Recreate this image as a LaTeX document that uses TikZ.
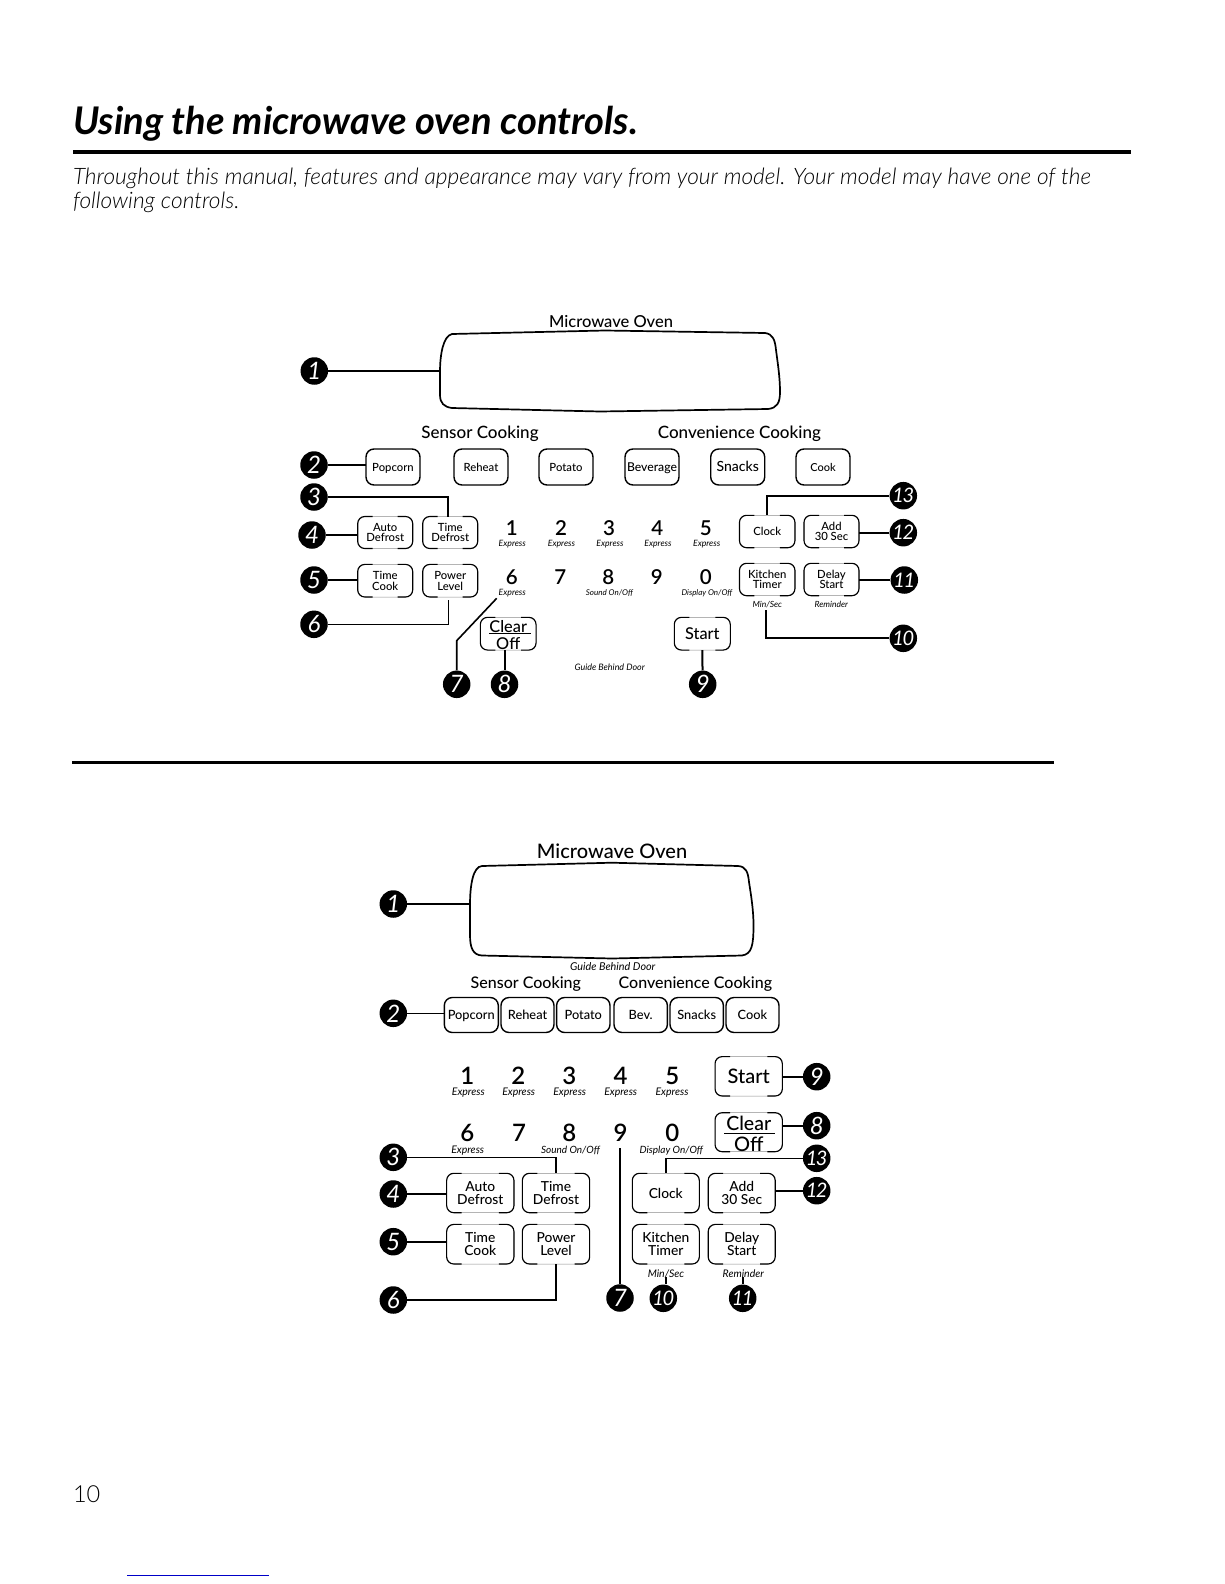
\documentclass[tikz,border=0pt]{standalone}
\usepackage{fontspec}
\setmainfont{Lato}
\newfontfamily\lightit{Lato Light Italic}
\newfontfamily\lightup{Lato Light}
\newfontfamily\medf{Lato Medium}
\newfontfamily\semif{Lato Semibold}
\newcommand{\fs}[1]{\fontsize{#1}{#1}\selectfont}
\tikzset{
  conn/.style={line width=2pt,black},
  thinconn/.style={line width=1.6pt,black},
  solidbtn/.style={draw=black,line width=1.4pt,rounded corners=8pt,inner sep=0pt,outer sep=0pt,align=center,text height=1em,text depth=0.2em},
  softbtn/.style={draw=black!45,line width=0.5pt,rounded corners=8pt,inner sep=0pt,outer sep=0pt,align=center},
  bracket/.style={black,line width=1.1pt,rounded corners=7pt},
  badge/.style={circle,fill=black,inner sep=0pt,minimum size=27.5pt,text=white,font=\fs{24}\itshape},
  lbl/.style={inner sep=0pt,outer sep=0pt,align=center},
  tiny/.style={lbl,font=\itshape},
  dispbox/.style={line width=1.7pt,black},
}
% name x y w h size text
\newcommand{\sbtn}[7]{\node[solidbtn,minimum width=#4pt,minimum height=#5pt,font=\fs{#6}\medf] (#1) at (#2,#3) {#7};}
\newcommand{\gbtn}[7]{\node[softbtn,minimum width=#4pt,minimum height=#5pt,font=\fs{#6}\medf] (#1) at (#2,#3) {#7};
  \draw[bracket] ([xshift=15pt]#1.north west) -- (#1.north west) -- (#1.south west) -- ([xshift=15pt]#1.south west);
  \draw[bracket] ([xshift=-15pt]#1.north east) -- (#1.north east) -- (#1.south east) -- ([xshift=-15pt]#1.south east);}
\newcommand{\bdg}[4]{\node[badge] (#1) at (#2,#3) {#4};}
\newcommand{\twod}[2]{\fs{20}#1\kern-1.5pt#2}
\newcommand{\lab}[5]{\node[lbl,font=\fs{#4}\medf] (#1) at (#2,#3) {#5};}
\newcommand{\dig}[5]{\node[lbl,font=\fs{#4}\semif] (#1) at (#2,#3) {#5};}
\newcommand{\smlab}[5]{\node[tiny,font=\fs{#4}\itshape] (#1) at (#2,#3) {#5};}
\begin{document}
\begin{tikzpicture}[x=1pt,y=-1pt]
\useasboundingbox (0,0) rectangle (1224,1584);
% Header
\node[lbl,anchor=base west,font=\fs{38.1}\bfseries\itshape] (title) at (73,135) {Using the microwave oven controls.};
\fill[black] (73,150.3) rectangle (1131,154.3);
\node[lbl,anchor=base west,font=\fs{22.7}\lightit] (intro1) at (73,184) {Throughout this manual, features and appearance may vary from your model. Your model may have one of the};
\node[lbl,anchor=base west,font=\fs{22.7}\lightit] (intro2) at (73,208) {following controls.};
\fill[black] (72.3,761) rectangle (1054,763.6);
\node[lbl,anchor=base west,font=\fs{23.5}\lightup] (pagenum) at (73,1502) {10};
\draw[line width=1pt,color={rgb,255:red,0;green,0;blue,200}] (127,1575.3) -- (269,1575.3);

% ---------- Upper panel ----------
\lab{mo1}{611}{322}{16.5}{Microwave Oven}
\draw[dispbox] (440,372) .. controls (440,355) and (443,336) .. (452,334) -- (605,330.5) -- (765,333)
  .. controls (773,334) and (775,340) .. (776,350) .. controls (778,365) and (780,378) .. (780,392)
  .. controls (780,403) and (777,408) .. (768,409) -- (600,411.5) -- (452,408)
  .. controls (444,407) and (440,403) .. (440,395) -- cycle;
\coordinate (disp1) at (440,371);
\lab{sc1}{480}{433.5}{17}{Sensor Cooking}
\lab{cc1}{739.3}{433.5}{17}{Convenience Cooking}
\sbtn{pop1}{393}{467}{54}{36}{11.3}{Popcorn}
\sbtn{reh1}{481}{467}{54}{36}{11.3}{Reheat}
\sbtn{pot1}{566}{467}{54}{36}{11.3}{Potato}
\sbtn{bev1}{652}{467}{54}{36}{12.2}{Beverage}
\sbtn{sna1}{737.7}{467}{54}{36}{14}{Snacks}
\sbtn{coo1}{823}{467}{54}{36}{11}{Cook}
\gbtn{ad1}{385.2}{532.5}{55}{32}{11.3}{Auto\\[-0.6pt]Defrost}
\gbtn{td1}{450.2}{532.5}{55}{32}{11.3}{Time\\[-0.6pt]Defrost}
\gbtn{tc1}{385.2}{580.7}{55}{32.6}{11.3}{Time\\[-0.6pt]Cook}
\gbtn{pl1}{450.2}{580.7}{55}{32.6}{11.3}{Power\\[-0.6pt]Level}
\gbtn{clk1}{767.2}{531.5}{55.5}{32.4}{11.3}{Clock}
\gbtn{add1}{831.5}{531.5}{55}{32.4}{11.3}{Add\\[-0.6pt]30 Sec}
\gbtn{kt1}{767.2}{579.5}{55.5}{32.4}{11.3}{Kitchen\\[-0.6pt]Timer}
\gbtn{ds1}{831.5}{579.5}{55}{32.4}{11.3}{Delay\\[-0.6pt]Start}
\gbtn{clr1}{508.2}{633.7}{55.7}{32.7}{17}{\strut}
\lab{clrt1}{508.2}{626.5}{16.3}{Clear}
\lab{offt1}{508.2}{643.5}{16.3}{Off}
\coordinate (barL1) at (489.3,633.6); \coordinate (barR1) at (530.7,633.6);
\draw[line width=1.3pt] (barL1) -- (barR1);
\gbtn{st1}{702.3}{633.7}{56}{32.7}{16.3}{Start}
% digits
\dig{d11}{511.7}{528.3}{20.5}{1}\dig{d12}{561}{528.3}{20.5}{2}\dig{d13}{609}{528.3}{20.5}{3}\dig{d14}{657.3}{528.3}{20.5}{4}\dig{d15}{705.7}{528.3}{20.5}{5}
\dig{d16}{511.7}{577}{20.5}{6}\dig{d17}{560.3}{577}{20.5}{7}\dig{d18}{608.3}{577}{20.5}{8}\dig{d19}{656.7}{577}{20.5}{9}\dig{d10}{705.7}{577}{20.5}{0}
\smlab{e11}{512.3}{544}{8.7}{Express}\smlab{e12}{561.5}{544}{8.7}{Express}\smlab{e13}{610}{544}{8.7}{Express}\smlab{e14}{658}{544}{8.7}{Express}\smlab{e15}{706.7}{544}{8.7}{Express}
\smlab{e16}{512.3}{593}{8.7}{Express}
\smlab{so1}{609.5}{593}{8}{Sound On/Off}
\smlab{dp1}{707}{593}{8}{Display On/Off}
\smlab{ms1}{767.3}{604.2}{8.5}{Min/Sec}
\smlab{rm1}{831.3}{604.2}{8.5}{Reminder}
\smlab{gb1}{609.7}{667.5}{8.9}{Guide Behind Door}
% badges
\bdg{b11}{314.3}{371}{1}\bdg{b12}{314}{465}{2}\bdg{b13}{314}{497}{3}\bdg{b14}{312}{535}{4}\bdg{b15}{314}{580}{5}\bdg{b16}{314}{624.3}{6}
\bdg{b17}{456.7}{684.3}{7}\bdg{b18}{504.5}{684.3}{8}\bdg{b19}{702.7}{684.3}{9}
\bdg{b110}{903.3}{638.3}{\twod{1}{0}}\bdg{b111}{904.3}{580}{\twod{1}{1}}\bdg{b112}{903.3}{532.7}{\twod{1}{2}}\bdg{b113}{903.3}{495.7}{\twod{1}{3}}
% connectors
\draw[conn] (b11) -- (disp1);
\draw[conn] (b12.east) -- (b12.east -| pop1.west);
\draw[thinconn] (b13.east) -| ([xshift=-2pt]td1.north);
\draw[conn] (b14.east) -- (b14.east -| ad1.west);
\draw[conn] (b15.east) -- (b15.east -| tc1.west);
\coordinate (pl1e) at (448.3,600);
\draw[thinconn] (b16.east) -| (pl1e);
\coordinate (l7a) at (496.7,598.3); \coordinate (l7b) at (456.7,640.7);
\draw[thinconn] (l7a) -- (l7b) -- (b17);
\draw[conn] (clr1.south -| b18) -- (b18);
\draw[conn] (st1.south) -- (b19);
\coordinate (ms1e) at (766,610);
\draw[conn] (b110.west) -| (ms1e);
\draw[conn] (b111.west) -- (b111.west -| ds1.east);
\draw[conn] (b112.west) -- (b112.west -| add1.east);
\draw[conn] (b113.west) -| ([xshift=-0.5pt]clk1.north);

% ---------- Lower panel ----------
\lab{mo2}{612}{851.7}{20}{Microwave Oven}
\draw[dispbox] (470,905) .. controls (470,885) and (473,866.5) .. (482,866) -- (612,862.7) -- (738,866)
  .. controls (746,866.5) and (748,872) .. (749,882) .. controls (751,895) and (753.5,910) .. (753.5,925)
  .. controls (753.5,945) and (752,954) .. (742,955.5) -- (612,958.5) -- (482,955.5)
  .. controls (473,955) and (470,948) .. (470,935) -- cycle;
\coordinate (disp2) at (470,904);
\smlab{gb2}{612.8}{966.2}{10.8}{Guide Behind Door}
\lab{sc2}{525.8}{984.2}{16}{Sensor Cooking}
\lab{cc2}{695.3}{984.2}{16}{Convenience Cooking}
\sbtn{pop2}{471.3}{1015}{54}{35}{12.8}{Popcorn}
\sbtn{reh2}{527.5}{1015}{53}{35}{12.8}{Reheat}
\sbtn{pot2}{583.3}{1015}{53.4}{35}{12.8}{Potato}
\sbtn{bev2}{640.7}{1015}{53.4}{35}{12.8}{Bev.}
\sbtn{sna2}{696.7}{1015}{53.4}{35}{12.8}{Snacks}
\sbtn{coo2}{752.5}{1015}{53}{35}{12.8}{Cook}
\dig{d21}{467.3}{1075.5}{24}{1}\dig{d22}{518.3}{1075.5}{24}{2}\dig{d23}{569.3}{1075.5}{24}{3}\dig{d24}{620.7}{1075.5}{24}{4}\dig{d25}{672.3}{1075.5}{24}{5}
\dig{d26}{467.3}{1133}{24}{6}\dig{d27}{519}{1133}{24}{7}\dig{d28}{569.3}{1133}{24}{8}\dig{d29}{620.7}{1133}{24}{9}\dig{d20}{672.3}{1133}{24}{0}
\smlab{e21}{468.3}{1092.2}{10.5}{Express}\smlab{e22}{518.7}{1092.2}{10.5}{Express}\smlab{e23}{569.7}{1092.2}{10.5}{Express}\smlab{e24}{620.7}{1092.2}{10.5}{Express}\smlab{e25}{672}{1092.2}{10.5}{Express}
\smlab{e26}{467.7}{1150.2}{10.5}{Express}
\smlab{so2}{570.5}{1150.2}{10}{Sound On/Off}
\smlab{dp2}{671.3}{1150.2}{10}{Display On/Off}
\gbtn{ad2}{480.3}{1193}{67.3}{39.4}{13.8}{Auto\\[-0.8pt]Defrost}
\gbtn{td2}{556}{1193}{67.3}{39.4}{13.8}{Time\\[-0.8pt]Defrost}
\gbtn{tc2}{480.3}{1244.2}{67.3}{39.6}{13.8}{Time\\[-0.8pt]Cook}
\gbtn{pl2}{556}{1244.2}{67.3}{39.6}{13.8}{Power\\[-0.8pt]Level}
\gbtn{clk2}{665.8}{1193}{67}{39.4}{13.8}{Clock}
\gbtn{add2}{741.7}{1193}{67}{39.4}{13.8}{Add\\[-0.8pt]30 Sec}
\gbtn{kt2}{665.8}{1244.2}{67}{39.6}{13.8}{Kitchen\\[-0.8pt]Timer}
\gbtn{ds2}{741.7}{1244.2}{67}{39.6}{13.8}{Delay\\[-0.8pt]Start}
\gbtn{st2}{748.7}{1076.3}{67.3}{39.4}{20}{Start}
\gbtn{clr2}{748.7}{1132.2}{67.3}{39}{17}{\strut}
\lab{clrt2}{748.7}{1123}{19.5}{Clear}
\lab{offt2}{748.7}{1144.5}{20}{Off}
\coordinate (barL2) at (724,1133.3); \coordinate (barR2) at (775,1133.3);
\draw[line width=1.5pt] (barL2) -- (barR2);
\smlab{ms2}{666}{1273.5}{10.5}{Min/Sec}
\smlab{rm2}{743.3}{1273.5}{10.5}{Reminder}
\bdg{b21}{393.3}{904}{1}\bdg{b22}{393.3}{1013.3}{2}\bdg{b23}{393.3}{1157.3}{3}\bdg{b24}{393.3}{1194}{4}\bdg{b25}{393.3}{1241.7}{5}\bdg{b26}{393.3}{1300}{6}
\bdg{b27}{620}{1298}{7}\bdg{b28}{816.7}{1125.7}{8}\bdg{b29}{816.7}{1076.7}{9}
\bdg{b210}{663.3}{1298.3}{\twod{1}{0}}\bdg{b211}{742.7}{1298.3}{\twod{1}{1}}\bdg{b212}{816.7}{1190.7}{\twod{1}{2}}\bdg{b213}{816.7}{1158.3}{\twod{1}{3}}
\draw[thinconn] (b21) -- (disp2);
\draw[thinconn] (b22.east) -- (b22.east -| pop2.west);
\draw[thinconn] (b23.east) -| (td2.north);
\draw[conn] (b24.east) -- (b24.east -| ad2.west);
\draw[thinconn] (b25.east) -- (b25.east -| tc2.west);
\draw[conn] (b26.east) -| (pl2.south);
\coordinate (d29b) at (620,1148);
\draw[thinconn] (d29b) -- (b27);
\draw[thinconn] (b28.west) -- (b28.west -| clr2.east);
\draw[thinconn] (b29.west) -- (b29.west -| st2.east);
\draw[thinconn] (b213.west) -| (clk2.north);
\draw[thinconn] (b212.west) -- (b212.west -| add2.east);
\coordinate (ms2b) at (665.7,1276.7);
\draw[thinconn] (ms2b) -- (ms2b |- b210.north);
\coordinate (rm2b) at (742.7,1276.7);
\draw[thinconn] (rm2b) -- (b211);
\end{tikzpicture}
\end{document}
